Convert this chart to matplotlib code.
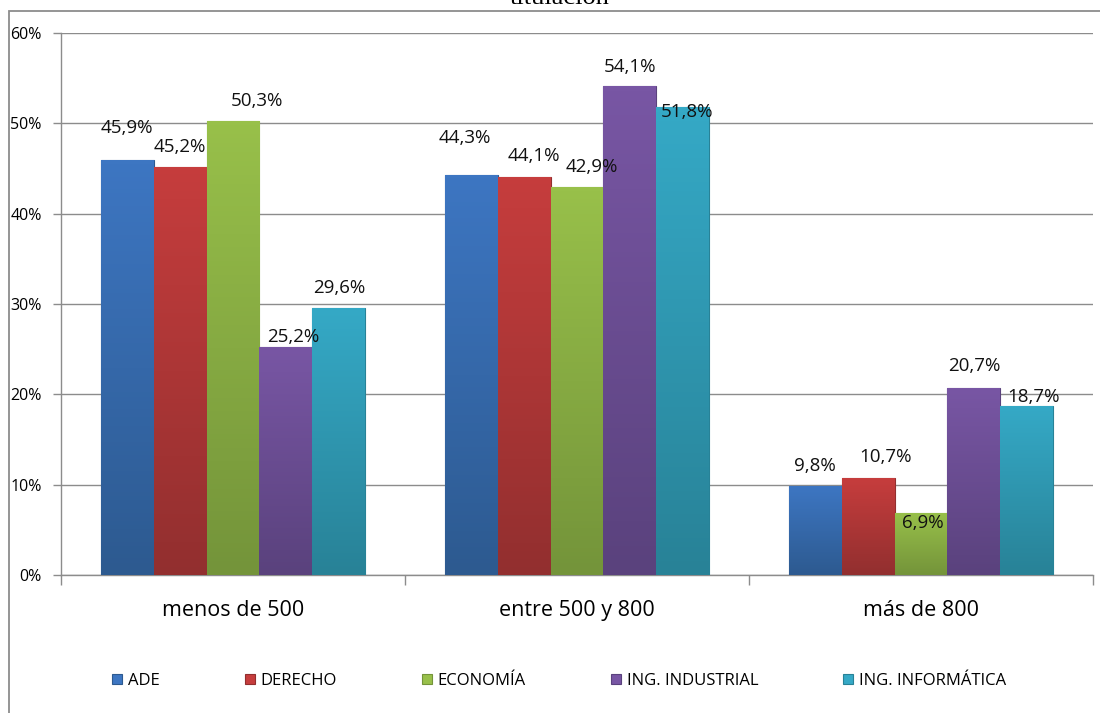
import numpy as np
import matplotlib
matplotlib.use("Agg")
import matplotlib.pyplot as plt
import matplotlib.patches as mpatches
from matplotlib.colors import LinearSegmentedColormap

plt.rcParams["font.family"] = ["Open Sans", "DejaVu Sans"]

categories = ["menos de 500", "entre 500 y 800", "más de 800"]
series = ["ADE", "DERECHO", "ECONOMÍA", "ING. INDUSTRIAL", "ING. INFORMÁTICA"]
ade = [45.9, 44.3, 9.8]
derecho = [45.2, 44.1, 10.7]
economia = [50.3, 42.9, 6.9]
industrial = [25.2, 54.1, 20.7]
informatica = [29.6, 51.8, 18.7]
values = [ade, derecho, economia, industrial, informatica]
yticks = [0, 10, 20, 30, 40, 50, 60]

# bar colours: (top, bottom) of the vertical shading
colors = [
    ("#3d76c2", "#2d5a90"),
    ("#c63d3d", "#922f2f"),
    ("#98c04a", "#74943a"),
    ("#7856a4", "#5a427d"),
    ("#35a9c6", "#288297"),
]

# hand-placed label offsets (px) as in the original sheet
label_off = [
    [(0, 32), (-6, 37), (0, 20)],
    [(0, 20), (10, 21), (17, 21)],
    [(24, 20), (15, 20), (2, -10)],
    [(7, 10), (0, 19), (0, 22)],
    [(0, 20), (4, -5), (7, 9)],
]

fig = plt.figure(figsize=(11, 7.13), dpi=100)
ax = fig.add_axes([61 / 1100, 1 - 575 / 713, 1032 / 1100, 542 / 713])

# outer chart frame (cut by the picture edges)
frame = mpatches.Rectangle((9 / 1100, -0.1), 1.2, 1.1 - 11 / 713, transform=fig.transFigure,
                           fill=False, ec="#8c8c8c", lw=1.3, zorder=0)
fig.patches.append(frame)

# title, cropped at the top like in the source picture
fig.text(560 / 1100, 1 - 4 / 713, "titulación", ha="center", va="baseline",
         family="Liberation Serif", fontsize=19)

x = np.arange(len(categories))
w = 1 / 6.5
px2pt = 72 / 100

for i, (name, vals) in enumerate(zip(series, values)):
    pos = x + (i - 2) * w
    bars = ax.bar(pos, vals, w, color=colors[i][0], edgecolor=colors[i][1], lw=0.8,
                  label=name, zorder=3)
    cmap = LinearSegmentedColormap.from_list(name, [colors[i][1], colors[i][0]])
    for b in bars:
        x0, y0 = b.get_x(), b.get_y()
        grad = np.linspace(0, 1, 100).reshape(-1, 1)
        im = ax.imshow(grad, cmap=cmap, origin="lower", aspect="auto",
                       extent=[x0, x0 + b.get_width(), y0, y0 + b.get_height()], zorder=3.5)
        im.set_clip_path(b)
    for j, v in enumerate(vals):
        dx, dy = label_off[i][j]
        ax.annotate(f"{v:.1f}%".replace(".", ","), (pos[j], v),
                    xytext=(dx * px2pt, dy * px2pt), textcoords="offset points",
                    ha="center", va="center", fontsize=13.5, color="#111111", zorder=5)

ax.set_xlim(-0.5, 2.5)
ax.set_ylim(0, 60)
ax.set_yticks(yticks)
ax.set_yticklabels([f"{t}%" for t in yticks], fontsize=11.5)
ax.yaxis.grid(True, color="#8c8c8c", lw=1)
ax.set_axisbelow(True)
ax.tick_params(axis="y", direction="out", length=6, width=1, color="#8c8c8c", pad=8)

ax.set_xticks(x)
ax.set_xticklabels(categories, fontsize=15.5)
ax.tick_params(axis="x", which="major", length=0, pad=18)
ax.set_xticks([-0.5, 0.5, 1.5, 2.5], minor=True)
ax.tick_params(axis="x", which="minor", direction="out", length=7, width=1, color="#8c8c8c")

for s in ["top", "right"]:
    ax.spines[s].set_visible(False)
for s in ["left", "bottom"]:
    ax.spines[s].set_color("#8c8c8c")
    ax.spines[s].set_linewidth(1)

fig.legend(loc="center", bbox_to_anchor=(559 / 1100, 1 - 681 / 713), ncol=5,
           frameon=False, fontsize=12, handlelength=0.6, handleheight=0.6,
           handletextpad=0.35, columnspacing=5.1, borderaxespad=0)

fig.savefig("out.png", dpi=100)
